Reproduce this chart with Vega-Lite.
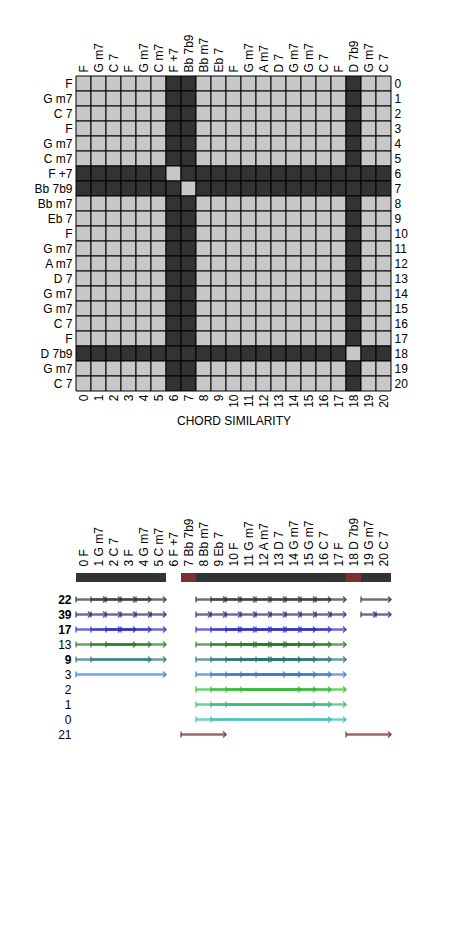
{
"$schema":"https://vega.github.io/schema/vega-lite/v6.json",
"padding":{"left":33,"top":33,"right":5,"bottom":5},
"background":"white",
"spacing":90,
"resolve":{"scale":{"color":"independent"}},
"config":{
"view":{"stroke":null},
"font":"Liberation Sans",
"axis":{"domain":false,"ticks":false,"grid":false,"labelFont":"Liberation Sans","labelFontSize":12,"labelColor":"#000000","titleFont":"Liberation Sans","titleFontSize":12,"titleFontWeight":"normal","titleColor":"#000000"}
},
"datasets":{
"cells":[
{"r":0,"c":0,"s":0},{"r":0,"c":1,"s":0},{"r":0,"c":2,"s":0},{"r":0,"c":3,"s":0},{"r":0,"c":4,"s":0},{"r":0,"c":5,"s":0},{"r":0,"c":6,"s":1},{"r":0,"c":7,"s":1},{"r":0,"c":8,"s":0},{"r":0,"c":9,"s":0},{"r":0,"c":10,"s":0},{"r":0,"c":11,"s":0},{"r":0,"c":12,"s":0},{"r":0,"c":13,"s":0},{"r":0,"c":14,"s":0},{"r":0,"c":15,"s":0},{"r":0,"c":16,"s":0},{"r":0,"c":17,"s":0},{"r":0,"c":18,"s":1},{"r":0,"c":19,"s":0},{"r":0,"c":20,"s":0},
{"r":1,"c":0,"s":0},{"r":1,"c":1,"s":0},{"r":1,"c":2,"s":0},{"r":1,"c":3,"s":0},{"r":1,"c":4,"s":0},{"r":1,"c":5,"s":0},{"r":1,"c":6,"s":1},{"r":1,"c":7,"s":1},{"r":1,"c":8,"s":0},{"r":1,"c":9,"s":0},{"r":1,"c":10,"s":0},{"r":1,"c":11,"s":0},{"r":1,"c":12,"s":0},{"r":1,"c":13,"s":0},{"r":1,"c":14,"s":0},{"r":1,"c":15,"s":0},{"r":1,"c":16,"s":0},{"r":1,"c":17,"s":0},{"r":1,"c":18,"s":1},{"r":1,"c":19,"s":0},{"r":1,"c":20,"s":0},
{"r":2,"c":0,"s":0},{"r":2,"c":1,"s":0},{"r":2,"c":2,"s":0},{"r":2,"c":3,"s":0},{"r":2,"c":4,"s":0},{"r":2,"c":5,"s":0},{"r":2,"c":6,"s":1},{"r":2,"c":7,"s":1},{"r":2,"c":8,"s":0},{"r":2,"c":9,"s":0},{"r":2,"c":10,"s":0},{"r":2,"c":11,"s":0},{"r":2,"c":12,"s":0},{"r":2,"c":13,"s":0},{"r":2,"c":14,"s":0},{"r":2,"c":15,"s":0},{"r":2,"c":16,"s":0},{"r":2,"c":17,"s":0},{"r":2,"c":18,"s":1},{"r":2,"c":19,"s":0},{"r":2,"c":20,"s":0},
{"r":3,"c":0,"s":0},{"r":3,"c":1,"s":0},{"r":3,"c":2,"s":0},{"r":3,"c":3,"s":0},{"r":3,"c":4,"s":0},{"r":3,"c":5,"s":0},{"r":3,"c":6,"s":1},{"r":3,"c":7,"s":1},{"r":3,"c":8,"s":0},{"r":3,"c":9,"s":0},{"r":3,"c":10,"s":0},{"r":3,"c":11,"s":0},{"r":3,"c":12,"s":0},{"r":3,"c":13,"s":0},{"r":3,"c":14,"s":0},{"r":3,"c":15,"s":0},{"r":3,"c":16,"s":0},{"r":3,"c":17,"s":0},{"r":3,"c":18,"s":1},{"r":3,"c":19,"s":0},{"r":3,"c":20,"s":0},
{"r":4,"c":0,"s":0},{"r":4,"c":1,"s":0},{"r":4,"c":2,"s":0},{"r":4,"c":3,"s":0},{"r":4,"c":4,"s":0},{"r":4,"c":5,"s":0},{"r":4,"c":6,"s":1},{"r":4,"c":7,"s":1},{"r":4,"c":8,"s":0},{"r":4,"c":9,"s":0},{"r":4,"c":10,"s":0},{"r":4,"c":11,"s":0},{"r":4,"c":12,"s":0},{"r":4,"c":13,"s":0},{"r":4,"c":14,"s":0},{"r":4,"c":15,"s":0},{"r":4,"c":16,"s":0},{"r":4,"c":17,"s":0},{"r":4,"c":18,"s":1},{"r":4,"c":19,"s":0},{"r":4,"c":20,"s":0},
{"r":5,"c":0,"s":0},{"r":5,"c":1,"s":0},{"r":5,"c":2,"s":0},{"r":5,"c":3,"s":0},{"r":5,"c":4,"s":0},{"r":5,"c":5,"s":0},{"r":5,"c":6,"s":1},{"r":5,"c":7,"s":1},{"r":5,"c":8,"s":0},{"r":5,"c":9,"s":0},{"r":5,"c":10,"s":0},{"r":5,"c":11,"s":0},{"r":5,"c":12,"s":0},{"r":5,"c":13,"s":0},{"r":5,"c":14,"s":0},{"r":5,"c":15,"s":0},{"r":5,"c":16,"s":0},{"r":5,"c":17,"s":0},{"r":5,"c":18,"s":1},{"r":5,"c":19,"s":0},{"r":5,"c":20,"s":0},
{"r":6,"c":0,"s":1},{"r":6,"c":1,"s":1},{"r":6,"c":2,"s":1},{"r":6,"c":3,"s":1},{"r":6,"c":4,"s":1},{"r":6,"c":5,"s":1},{"r":6,"c":6,"s":0},{"r":6,"c":7,"s":1},{"r":6,"c":8,"s":1},{"r":6,"c":9,"s":1},{"r":6,"c":10,"s":1},{"r":6,"c":11,"s":1},{"r":6,"c":12,"s":1},{"r":6,"c":13,"s":1},{"r":6,"c":14,"s":1},{"r":6,"c":15,"s":1},{"r":6,"c":16,"s":1},{"r":6,"c":17,"s":1},{"r":6,"c":18,"s":1},{"r":6,"c":19,"s":1},{"r":6,"c":20,"s":1},
{"r":7,"c":0,"s":1},{"r":7,"c":1,"s":1},{"r":7,"c":2,"s":1},{"r":7,"c":3,"s":1},{"r":7,"c":4,"s":1},{"r":7,"c":5,"s":1},{"r":7,"c":6,"s":1},{"r":7,"c":7,"s":0},{"r":7,"c":8,"s":1},{"r":7,"c":9,"s":1},{"r":7,"c":10,"s":1},{"r":7,"c":11,"s":1},{"r":7,"c":12,"s":1},{"r":7,"c":13,"s":1},{"r":7,"c":14,"s":1},{"r":7,"c":15,"s":1},{"r":7,"c":16,"s":1},{"r":7,"c":17,"s":1},{"r":7,"c":18,"s":1},{"r":7,"c":19,"s":1},{"r":7,"c":20,"s":1},
{"r":8,"c":0,"s":0},{"r":8,"c":1,"s":0},{"r":8,"c":2,"s":0},{"r":8,"c":3,"s":0},{"r":8,"c":4,"s":0},{"r":8,"c":5,"s":0},{"r":8,"c":6,"s":1},{"r":8,"c":7,"s":1},{"r":8,"c":8,"s":0},{"r":8,"c":9,"s":0},{"r":8,"c":10,"s":0},{"r":8,"c":11,"s":0},{"r":8,"c":12,"s":0},{"r":8,"c":13,"s":0},{"r":8,"c":14,"s":0},{"r":8,"c":15,"s":0},{"r":8,"c":16,"s":0},{"r":8,"c":17,"s":0},{"r":8,"c":18,"s":1},{"r":8,"c":19,"s":0},{"r":8,"c":20,"s":0},
{"r":9,"c":0,"s":0},{"r":9,"c":1,"s":0},{"r":9,"c":2,"s":0},{"r":9,"c":3,"s":0},{"r":9,"c":4,"s":0},{"r":9,"c":5,"s":0},{"r":9,"c":6,"s":1},{"r":9,"c":7,"s":1},{"r":9,"c":8,"s":0},{"r":9,"c":9,"s":0},{"r":9,"c":10,"s":0},{"r":9,"c":11,"s":0},{"r":9,"c":12,"s":0},{"r":9,"c":13,"s":0},{"r":9,"c":14,"s":0},{"r":9,"c":15,"s":0},{"r":9,"c":16,"s":0},{"r":9,"c":17,"s":0},{"r":9,"c":18,"s":1},{"r":9,"c":19,"s":0},{"r":9,"c":20,"s":0},
{"r":10,"c":0,"s":0},{"r":10,"c":1,"s":0},{"r":10,"c":2,"s":0},{"r":10,"c":3,"s":0},{"r":10,"c":4,"s":0},{"r":10,"c":5,"s":0},{"r":10,"c":6,"s":1},{"r":10,"c":7,"s":1},{"r":10,"c":8,"s":0},{"r":10,"c":9,"s":0},{"r":10,"c":10,"s":0},{"r":10,"c":11,"s":0},{"r":10,"c":12,"s":0},{"r":10,"c":13,"s":0},{"r":10,"c":14,"s":0},{"r":10,"c":15,"s":0},{"r":10,"c":16,"s":0},{"r":10,"c":17,"s":0},{"r":10,"c":18,"s":1},{"r":10,"c":19,"s":0},{"r":10,"c":20,"s":0},
{"r":11,"c":0,"s":0},{"r":11,"c":1,"s":0},{"r":11,"c":2,"s":0},{"r":11,"c":3,"s":0},{"r":11,"c":4,"s":0},{"r":11,"c":5,"s":0},{"r":11,"c":6,"s":1},{"r":11,"c":7,"s":1},{"r":11,"c":8,"s":0},{"r":11,"c":9,"s":0},{"r":11,"c":10,"s":0},{"r":11,"c":11,"s":0},{"r":11,"c":12,"s":0},{"r":11,"c":13,"s":0},{"r":11,"c":14,"s":0},{"r":11,"c":15,"s":0},{"r":11,"c":16,"s":0},{"r":11,"c":17,"s":0},{"r":11,"c":18,"s":1},{"r":11,"c":19,"s":0},{"r":11,"c":20,"s":0},
{"r":12,"c":0,"s":0},{"r":12,"c":1,"s":0},{"r":12,"c":2,"s":0},{"r":12,"c":3,"s":0},{"r":12,"c":4,"s":0},{"r":12,"c":5,"s":0},{"r":12,"c":6,"s":1},{"r":12,"c":7,"s":1},{"r":12,"c":8,"s":0},{"r":12,"c":9,"s":0},{"r":12,"c":10,"s":0},{"r":12,"c":11,"s":0},{"r":12,"c":12,"s":0},{"r":12,"c":13,"s":0},{"r":12,"c":14,"s":0},{"r":12,"c":15,"s":0},{"r":12,"c":16,"s":0},{"r":12,"c":17,"s":0},{"r":12,"c":18,"s":1},{"r":12,"c":19,"s":0},{"r":12,"c":20,"s":0},
{"r":13,"c":0,"s":0},{"r":13,"c":1,"s":0},{"r":13,"c":2,"s":0},{"r":13,"c":3,"s":0},{"r":13,"c":4,"s":0},{"r":13,"c":5,"s":0},{"r":13,"c":6,"s":1},{"r":13,"c":7,"s":1},{"r":13,"c":8,"s":0},{"r":13,"c":9,"s":0},{"r":13,"c":10,"s":0},{"r":13,"c":11,"s":0},{"r":13,"c":12,"s":0},{"r":13,"c":13,"s":0},{"r":13,"c":14,"s":0},{"r":13,"c":15,"s":0},{"r":13,"c":16,"s":0},{"r":13,"c":17,"s":0},{"r":13,"c":18,"s":1},{"r":13,"c":19,"s":0},{"r":13,"c":20,"s":0},
{"r":14,"c":0,"s":0},{"r":14,"c":1,"s":0},{"r":14,"c":2,"s":0},{"r":14,"c":3,"s":0},{"r":14,"c":4,"s":0},{"r":14,"c":5,"s":0},{"r":14,"c":6,"s":1},{"r":14,"c":7,"s":1},{"r":14,"c":8,"s":0},{"r":14,"c":9,"s":0},{"r":14,"c":10,"s":0},{"r":14,"c":11,"s":0},{"r":14,"c":12,"s":0},{"r":14,"c":13,"s":0},{"r":14,"c":14,"s":0},{"r":14,"c":15,"s":0},{"r":14,"c":16,"s":0},{"r":14,"c":17,"s":0},{"r":14,"c":18,"s":1},{"r":14,"c":19,"s":0},{"r":14,"c":20,"s":0},
{"r":15,"c":0,"s":0},{"r":15,"c":1,"s":0},{"r":15,"c":2,"s":0},{"r":15,"c":3,"s":0},{"r":15,"c":4,"s":0},{"r":15,"c":5,"s":0},{"r":15,"c":6,"s":1},{"r":15,"c":7,"s":1},{"r":15,"c":8,"s":0},{"r":15,"c":9,"s":0},{"r":15,"c":10,"s":0},{"r":15,"c":11,"s":0},{"r":15,"c":12,"s":0},{"r":15,"c":13,"s":0},{"r":15,"c":14,"s":0},{"r":15,"c":15,"s":0},{"r":15,"c":16,"s":0},{"r":15,"c":17,"s":0},{"r":15,"c":18,"s":1},{"r":15,"c":19,"s":0},{"r":15,"c":20,"s":0},
{"r":16,"c":0,"s":0},{"r":16,"c":1,"s":0},{"r":16,"c":2,"s":0},{"r":16,"c":3,"s":0},{"r":16,"c":4,"s":0},{"r":16,"c":5,"s":0},{"r":16,"c":6,"s":1},{"r":16,"c":7,"s":1},{"r":16,"c":8,"s":0},{"r":16,"c":9,"s":0},{"r":16,"c":10,"s":0},{"r":16,"c":11,"s":0},{"r":16,"c":12,"s":0},{"r":16,"c":13,"s":0},{"r":16,"c":14,"s":0},{"r":16,"c":15,"s":0},{"r":16,"c":16,"s":0},{"r":16,"c":17,"s":0},{"r":16,"c":18,"s":1},{"r":16,"c":19,"s":0},{"r":16,"c":20,"s":0},
{"r":17,"c":0,"s":0},{"r":17,"c":1,"s":0},{"r":17,"c":2,"s":0},{"r":17,"c":3,"s":0},{"r":17,"c":4,"s":0},{"r":17,"c":5,"s":0},{"r":17,"c":6,"s":1},{"r":17,"c":7,"s":1},{"r":17,"c":8,"s":0},{"r":17,"c":9,"s":0},{"r":17,"c":10,"s":0},{"r":17,"c":11,"s":0},{"r":17,"c":12,"s":0},{"r":17,"c":13,"s":0},{"r":17,"c":14,"s":0},{"r":17,"c":15,"s":0},{"r":17,"c":16,"s":0},{"r":17,"c":17,"s":0},{"r":17,"c":18,"s":1},{"r":17,"c":19,"s":0},{"r":17,"c":20,"s":0},
{"r":18,"c":0,"s":1},{"r":18,"c":1,"s":1},{"r":18,"c":2,"s":1},{"r":18,"c":3,"s":1},{"r":18,"c":4,"s":1},{"r":18,"c":5,"s":1},{"r":18,"c":6,"s":1},{"r":18,"c":7,"s":1},{"r":18,"c":8,"s":1},{"r":18,"c":9,"s":1},{"r":18,"c":10,"s":1},{"r":18,"c":11,"s":1},{"r":18,"c":12,"s":1},{"r":18,"c":13,"s":1},{"r":18,"c":14,"s":1},{"r":18,"c":15,"s":1},{"r":18,"c":16,"s":1},{"r":18,"c":17,"s":1},{"r":18,"c":18,"s":0},{"r":18,"c":19,"s":1},{"r":18,"c":20,"s":1},
{"r":19,"c":0,"s":0},{"r":19,"c":1,"s":0},{"r":19,"c":2,"s":0},{"r":19,"c":3,"s":0},{"r":19,"c":4,"s":0},{"r":19,"c":5,"s":0},{"r":19,"c":6,"s":1},{"r":19,"c":7,"s":1},{"r":19,"c":8,"s":0},{"r":19,"c":9,"s":0},{"r":19,"c":10,"s":0},{"r":19,"c":11,"s":0},{"r":19,"c":12,"s":0},{"r":19,"c":13,"s":0},{"r":19,"c":14,"s":0},{"r":19,"c":15,"s":0},{"r":19,"c":16,"s":0},{"r":19,"c":17,"s":0},{"r":19,"c":18,"s":1},{"r":19,"c":19,"s":0},{"r":19,"c":20,"s":0},
{"r":20,"c":0,"s":0},{"r":20,"c":1,"s":0},{"r":20,"c":2,"s":0},{"r":20,"c":3,"s":0},{"r":20,"c":4,"s":0},{"r":20,"c":5,"s":0},{"r":20,"c":6,"s":1},{"r":20,"c":7,"s":1},{"r":20,"c":8,"s":0},{"r":20,"c":9,"s":0},{"r":20,"c":10,"s":0},{"r":20,"c":11,"s":0},{"r":20,"c":12,"s":0},{"r":20,"c":13,"s":0},{"r":20,"c":14,"s":0},{"r":20,"c":15,"s":0},{"r":20,"c":16,"s":0},{"r":20,"c":17,"s":0},{"r":20,"c":18,"s":1},{"r":20,"c":19,"s":0},{"r":20,"c":20,"s":0}
],
"chords":[
{"lab":"0 F","k":"d"},{"lab":"1 G m7","k":"d"},{"lab":"2 C 7","k":"d"},{"lab":"3 F","k":"d"},{"lab":"4 G m7","k":"d"},{"lab":"5 C m7","k":"d"},{"lab":"6 F +7","k":"n"},{"lab":"7 Bb 7b9","k":"r"},{"lab":"8 Bb m7","k":"d"},{"lab":"9 Eb 7","k":"d"},{"lab":"10 F","k":"d"},{"lab":"11 G m7","k":"d"},{"lab":"12 A m7","k":"d"},{"lab":"13 D 7","k":"d"},{"lab":"14 G m7","k":"d"},{"lab":"15 G m7","k":"d"},{"lab":"16 C 7","k":"d"},{"lab":"17 F","k":"d"},{"lab":"18 D 7b9","k":"r"},{"lab":"19 G m7","k":"d"},{"lab":"20 C 7","k":"d"}
],
"arrows":[
{"row":"22","a":0,"b":2},{"row":"22","a":1,"b":3},{"row":"22","a":2,"b":4},{"row":"22","a":3,"b":5},{"row":"22","a":4,"b":6},{"row":"22","a":8,"b":10},{"row":"22","a":9,"b":11},{"row":"22","a":10,"b":12},{"row":"22","a":11,"b":13},{"row":"22","a":12,"b":14},{"row":"22","a":13,"b":15},{"row":"22","a":14,"b":16},{"row":"22","a":15,"b":17},{"row":"22","a":16,"b":18},{"row":"22","a":19,"b":21},
{"row":"39","a":0,"b":1},{"row":"39","a":1,"b":2},{"row":"39","a":2,"b":3},{"row":"39","a":3,"b":4},{"row":"39","a":4,"b":5},{"row":"39","a":5,"b":6},{"row":"39","a":8,"b":9},{"row":"39","a":9,"b":10},{"row":"39","a":10,"b":11},{"row":"39","a":11,"b":12},{"row":"39","a":12,"b":13},{"row":"39","a":13,"b":14},{"row":"39","a":14,"b":15},{"row":"39","a":15,"b":16},{"row":"39","a":16,"b":17},{"row":"39","a":17,"b":18},{"row":"39","a":19,"b":20},{"row":"39","a":20,"b":21},
{"row":"17","a":0,"b":3},{"row":"17","a":1,"b":4},{"row":"17","a":2,"b":5},{"row":"17","a":3,"b":6},{"row":"17","a":8,"b":11},{"row":"17","a":9,"b":12},{"row":"17","a":10,"b":13},{"row":"17","a":11,"b":14},{"row":"17","a":12,"b":15},{"row":"17","a":13,"b":16},{"row":"17","a":14,"b":17},{"row":"17","a":15,"b":18},
{"row":"13","a":0,"b":4},{"row":"13","a":1,"b":5},{"row":"13","a":2,"b":6},{"row":"13","a":8,"b":12},{"row":"13","a":9,"b":13},{"row":"13","a":10,"b":14},{"row":"13","a":11,"b":15},{"row":"13","a":12,"b":16},{"row":"13","a":13,"b":17},{"row":"13","a":14,"b":18},
{"row":"9","a":0,"b":5},{"row":"9","a":1,"b":6},{"row":"9","a":8,"b":13},{"row":"9","a":9,"b":14},{"row":"9","a":10,"b":15},{"row":"9","a":11,"b":16},{"row":"9","a":12,"b":17},{"row":"9","a":13,"b":18},
{"row":"3","a":0,"b":6},{"row":"3","a":8,"b":14},{"row":"3","a":9,"b":15},{"row":"3","a":10,"b":16},{"row":"3","a":11,"b":17},{"row":"3","a":12,"b":18},
{"row":"2","a":8,"b":15},{"row":"2","a":9,"b":16},{"row":"2","a":10,"b":17},{"row":"2","a":11,"b":18},
{"row":"1","a":8,"b":16},{"row":"1","a":9,"b":17},{"row":"1","a":10,"b":18},
{"row":"0","a":8,"b":17},{"row":"0","a":9,"b":18},
{"row":"21","a":7,"b":10},{"row":"21","a":18,"b":21}
]
},
"vconcat":[
{
"width":315,"height":315,
"data":{"name":"cells"},
"layer":[
{"mark":{"type":"rect","stroke":"#000000","strokeWidth":1},
"encoding":{
"x":{"field":"c","type":"ordinal","axis":{"orient":"top","labelAngle":-90,"labelPadding":4,"title":null,"labelExpr":"['F','G m7','C 7','F','G m7','C m7','F +7','Bb 7b9','Bb m7','Eb 7','F','G m7','A m7','D 7','G m7','G m7','C 7','F','D 7b9','G m7','C 7'][datum.value]"}},
"y":{"field":"r","type":"ordinal","axis":{"orient":"left","labelPadding":4,"title":null,"labelExpr":"['F','G m7','C 7','F','G m7','C m7','F +7','Bb 7b9','Bb m7','Eb 7','F','G m7','A m7','D 7','G m7','G m7','C 7','F','D 7b9','G m7','C 7'][datum.value]"}},
"color":{"field":"s","type":"nominal","scale":{"domain":[0,1],"range":["#c8c8c8","#333333"]},"legend":null}
}},
{"mark":{"type":"rect","opacity":0},
"encoding":{
"x":{"field":"c","type":"ordinal","axis":{"orient":"bottom","labelAngle":-90,"labelPadding":3,"title":"CHORD SIMILARITY","titlePadding":8}},
"y":{"field":"r","type":"ordinal","axis":{"orient":"right","labelPadding":3,"title":null}}
}}
],
"resolve":{"scale":{"x":"independent","y":"independent"}}
},
{
"bounds":"flush",
"spacing":10,
"resolve":{"scale":{"color":"independent"}},
"vconcat":[
{
"width":315,"height":9,
"data":{"name":"chords"},
"mark":"rect",
"encoding":{
"x":{"field":"lab","type":"ordinal","sort":null,"axis":{"orient":"top","labelAngle":-90,"labelPadding":7,"title":null}},
"color":{"field":"k","type":"nominal","scale":{"domain":["d","r","n"],"range":["#333333","#7a2f33","#ffffff"]},"legend":null}
}
},
{
"width":315,"height":150,
"data":{"name":"arrows"},
"encoding":{
"y":{"field":"row","type":"ordinal","sort":["22","39","17","13","9","3","2","1","0","21"],"scale":{"type":"point","padding":0.5},"axis":{"orient":"left","title":null,"labelPadding":5,"labelFontWeight":{"condition":{"test":"datum.value == '22' || datum.value == '39' || datum.value == '17' || datum.value == '9'","value":"bold"},"value":"normal"}}},
"color":{"field":"row","type":"nominal","scale":{"domain":["22","39","17","13","9","3","2","1","0","21"],"range":["#333333","#2f2f72","#2e2ec4","#2a7a2a","#2a7571","#3a7cc4","#33bb33","#33b87a","#33bcbc","#6e2b2b"]},"legend":null}
},
"layer":[
{"mark":{"type":"rule","strokeWidth":2.5,"opacity":0.7},
"encoding":{"x":{"field":"a","type":"quantitative","scale":{"domain":[0,21],"nice":false,"zero":false},"axis":null},"x2":{"field":"b"}}},
{"mark":{"type":"point","shape":"M0,-1L0,1","size":36,"filled":false,"strokeWidth":1.5,"opacity":0.75},
"encoding":{"x":{"field":"a","type":"quantitative","axis":null}}},
{"mark":{"type":"point","shape":"M-1,-1L0,0L-1,1","size":36,"filled":false,"strokeWidth":1.5,"opacity":0.75},
"encoding":{"x":{"field":"b","type":"quantitative","axis":null}}}
]
}
]
}
]
}
